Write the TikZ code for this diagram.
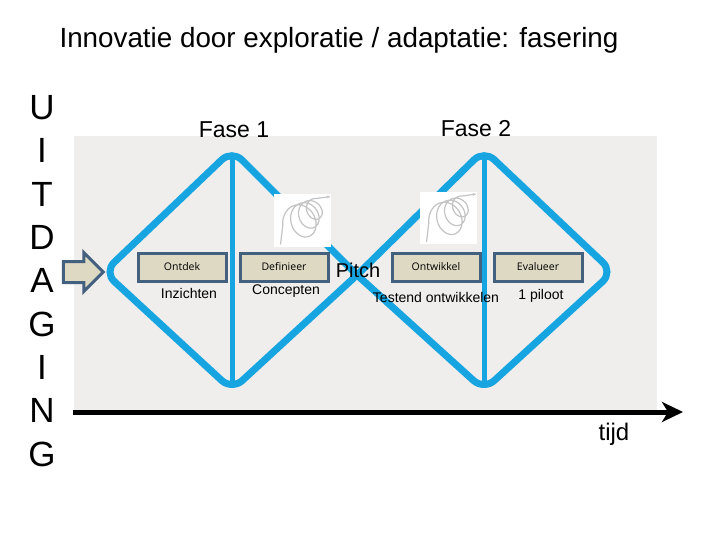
\documentclass[tikz,border=0pt]{standalone}
\usepackage{fontspec}
\usepackage{xcolor}
\setmainfont{Liberation Sans}
\newfontfamily\boxfont{Open Sans}
\usetikzlibrary{arrows.meta,shapes.arrows}
\definecolor{bluex}{HTML}{16A5E0}
\definecolor{softbg}{HTML}{F0EDED}
\definecolor{slatex}{HTML}{44607F}
\definecolor{sandx}{HTML}{DDD9C3}
\definecolor{spiralx}{HTML}{C4C4C4}
\tikzset{
  ar/.style={-{Stealth[length=21pt,width=20pt,inset=6pt]},line width=5pt,black},
  dia/.style={bluex,line width=7pt,rounded corners=14pt},
  mid/.style={bluex,line width=5pt},
  stepbox/.style={draw=slatex,line width=3pt,fill=sandx,minimum width=88pt,minimum height=28pt,inner sep=0pt,font=\boxfont\fontsize{10.5}{12}\selectfont},
  lab/.style={inner sep=0pt,font=\fontsize{14}{17}\selectfont},
  fase/.style={inner sep=0pt,font=\fontsize{23}{28}\selectfont}
}
\newcommand{\spiralimg}[3]{%
  \node[fill=white,minimum width=57pt,minimum height=52pt,inner sep=0pt] (#3) at (#1,#2) {};
  \begin{scope}[shift={(#1-28.5,#2-26)}]
  \draw[spiralx,line width=1.2pt,-{Stealth[length=4pt,width=3pt]}] (7,50) -- plot[smooth,samples=110,domain=0:1,variable=\s]
    ({25+18*\s+(16-8*\s)*cos(190-1180*\s)},{30-18*\s-(19-11*\s)*sin(190-1180*\s)+0.15*(16-8*\s)*cos(190-1180*\s)}) -- (57,2);
  \end{scope}}

\begin{document}
\begin{tikzpicture}[x=1pt,y=-1pt]
\useasboundingbox (0,0) rectangle (720,540);
\node[inner sep=0pt,font=\fontsize{27.8}{33}\selectfont] (title) at (339,40) {Innovatie door exploratie / adaptatie: fasering};
\node[inner sep=0pt,align=center,font=\fontsize{35}{43.3}\selectfont] (uitdaging) at (42,281) {U\\I\\T\\D\\A\\G\\I\\N\\G};
\fill[softbg] (74,136) rectangle (657,410);
% diamonds cross at the pitch
\coordinate (cross) at (357,275);
\coordinate (topa) at (232,150);
\coordinate (lefta) at (104,272);
\coordinate (bota) at (232,390);
\coordinate (topb) at (484,150);
\coordinate (rightb) at (613,272);
\coordinate (botb) at (484,390);
\draw[dia] (cross) -- (topa) -- (lefta) -- (bota) -- (cross);
\draw[dia] (cross) -- (topb) -- (rightb) -- (botb) -- (cross);
\draw[mid] (232,158) -- (232,383);
\draw[mid] (484,158) -- (484,383);
\spiralimg{302}{220.5}{spiralone}
\spiralimg{448}{218}{spiraltwo}
\node[single arrow,draw=slatex,line width=3pt,fill=sandx,minimum height=40pt,single arrow head extend=9pt,inner sep=9pt] (inarrow) at (78,272) {};
\node[stepbox] (ontdek) at (182,267) {Ontdek};
\node[stepbox] (definieer) at (284,267) {Definieer};
\node[stepbox] (ontwikkel) at (436,267) {Ontwikkel};
\node[stepbox] (evalueer) at (538,267) {Evalueer};
\node[lab] (inzichten) at (189,293) {Inzichten};
\node[lab] (concepten) at (286,291) {Concepten};
\node[lab] (testend) at (436,297) {Testend ontwikkelen};
\node[lab] (piloot) at (541,296) {1 piloot};
\node[inner sep=0pt,font=\fontsize{20}{24}\selectfont] (pitch) at (358,270) {Pitch};
\node[fase] (faseone) at (234,130) {Fase 1};
\node[fase] (fasetwo) at (476,129) {Fase 2};
\coordinate (tstart) at (73,412);
\coordinate (tend) at (683,412);
\draw[ar] (tstart) -- (tend);
\node[inner sep=0pt,font=\fontsize{24}{29}\selectfont] (tijd) at (614,434) {tijd};
\end{tikzpicture}
\end{document}
